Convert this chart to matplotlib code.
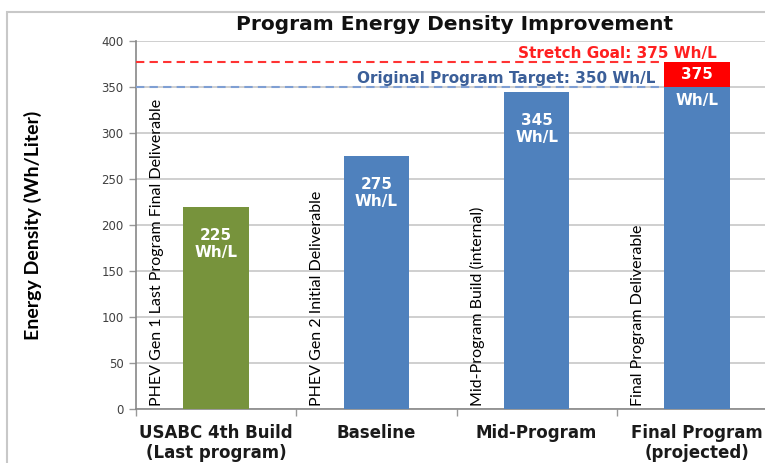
import matplotlib
matplotlib.use("Agg")
import matplotlib.pyplot as plt
from matplotlib.patches import Rectangle

# ---- data ----
categories = ["USABC 4th Build\n(Last program)", "Baseline", "Mid-Program", "Final Program\n(projected)"]
bar_values = [220, 275, 345, 350]
bar_colors = ["#77933C", "#4F81BD", "#4F81BD", "#4F81BD"]
value_labels = ["225", "275", "345", "375"]
stretch_top = 377
inner_labels = ["PHEV Gen 1 Last Program Final Deliverable",
                "PHEV Gen 2 Initial Deliverable",
                "Mid-Program Build (internal)",
                "Final Program Deliverable"]
target_value = 350
stretch_value = 377
yticks = [0, 50, 100, 150, 200, 250, 300, 350, 400]

W, H = 765, 463
fig = plt.figure(figsize=(W / 100, H / 100), dpi=100)

# outer chart frame (partly cropped)
fig.patches.append(Rectangle((7 / W, -0.1), 2.0, (H - 12) / H + 0.1, transform=fig.transFigure,
                             fill=False, edgecolor="#c8c8c8", linewidth=1.5))

ax = fig.add_axes([136 / W, (H - 409) / H, (777 - 136) / W, 368 / H])
ax.set_xlim(-0.5, 3.5)
ax.set_ylim(0, 400)

x = list(range(len(categories)))
bw = 0.41
ax.bar(x, bar_values, width=bw, color=bar_colors, zorder=3)
# stretch segment on the final bar
ax.bar([3], [stretch_top - bar_values[3]], bottom=[bar_values[3]], width=bw, color="#FF0000", zorder=3)

# dashed target lines up to the final bar
xl = 3 - bw / 2
ax.hlines(stretch_value, -0.5, xl, colors="#FF3333", linestyles=(0, (4, 2.5)), linewidth=1.5, zorder=4)
ax.hlines(target_value, -0.5, xl, colors="#7F9FD3", linestyles=(0, (4, 2.5)), linewidth=1.5, zorder=4)
ax.annotate("Stretch Goal: 375 Wh/L", (3 + bw / 2, stretch_value), xytext=(-13, 1),
            textcoords="offset pixels", color="#FF2020", fontsize=11,
            fontweight="bold", ha="right", va="bottom", zorder=5)
ax.annotate("Original Program Target: 350 Wh/L", (xl, target_value), xytext=(-9, 1),
            textcoords="offset pixels", color="#3B5F99", fontsize=11,
            fontweight="bold", ha="right", va="bottom", zorder=5)

# value labels inside bars
for i in range(3):
    ax.annotate(value_labels[i] + "\nWh/L", (i, bar_values[i]), xytext=(0, -21),
                textcoords="offset pixels", ha="center", va="top", color="white",
                fontsize=11, fontweight="bold", linespacing=1.2, zorder=5)
ax.text(3, (bar_values[3] + stretch_top) / 2, value_labels[3], ha="center", va="center",
        color="white", fontsize=11, fontweight="bold", zorder=5)
ax.annotate("Wh/L", (3, bar_values[3]), xytext=(0, -14), textcoords="offset pixels",
            ha="center", va="center", color="white", fontsize=11, fontweight="bold", zorder=5)

# rotated descriptions
for i, lab in enumerate(inner_labels):
    ax.text(i - 0.37, 3, lab, rotation=90, ha="center", va="bottom", fontsize=11.5,
            family="Lato", color="black", zorder=5)

# axes styling
ax.set_yticks(yticks)
ax.set_yticklabels([str(v) for v in yticks], fontsize=8.5, color="#404040")
ax.grid(axis="y", color="#cccccc", linewidth=1.3, zorder=0)
ax.set_axisbelow(True)
ax.tick_params(axis="y", length=5, color="#999999", width=1, pad=4)
ax.set_xticks(x)
ax.set_xticklabels(categories, fontsize=12, fontweight="bold", color="#1a1a1a", linespacing=1.1)
ax.tick_params(axis="x", which="major", length=0, pad=11)
ax.set_xticks([-0.5, 0.5, 1.5, 2.5, 3.5], minor=True)
ax.tick_params(axis="x", which="minor", length=5, color="#999999", width=1)
for s in ["top", "right"]:
    ax.spines[s].set_visible(False)
ax.spines["left"].set_color("#888888")
ax.spines["bottom"].set_color("#888888")
ax.spines["left"].set_linewidth(1.2)
ax.spines["bottom"].set_linewidth(1.2)

ax.set_ylabel("Energy Density (Wh/Liter)", fontsize=14, family="Lato", fontweight="bold", labelpad=20)
ax.yaxis.set_label_coords(-0.146, 0.5)

fig.text(455 / W, 1 - 25 / H, "Program Energy Density Improvement", ha="center", va="center",
         fontsize=14.5, fontweight="bold", color="#111111")

fig.savefig("out.png", dpi=100)
